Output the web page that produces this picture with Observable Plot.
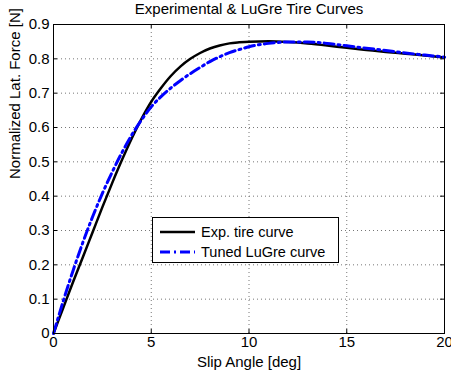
<!DOCTYPE html>
<html>
<head>
<meta charset="utf-8">
<script src="https://cdn.jsdelivr.net/npm/d3@7"></script>
<script src="https://cdn.jsdelivr.net/npm/@observablehq/plot@0.6"></script>
<style>
  body { margin: 0; background: #fff; }
  #wrap { position: relative; width: 451px; height: 381px; font-family: "Liberation Sans", Arial, Helvetica, sans-serif; }
  #legend { position: absolute; left: 152px; top: 217px; width: 185px; height: 44px; border: 1px solid #000; background: #fff; font-size: 14.5px; color: #000; }
  .item { position: absolute; left: 0; height: 20px; display: flex; align-items: center; }
  .item svg { margin-left: 7px; margin-right: 6px; }
</style>
</head>
<body>
<div id="wrap"></div>
<script>
const titleText = "Experimental & LuGre Tire Curves";
const xLabel = "Slip Angle [deg]";
const yLabel = "Normalized Lat. Force [N]";
const seriesNames = ["Exp. tire curve", "Tuned LuGre curve"];
const xTicks = [0, 5, 10, 15, 20];
const yTicks = [0, 0.1, 0.2, 0.3, 0.4, 0.5, 0.6, 0.7, 0.8, 0.9];

const expSlip  = [0, 0.5, 1, 1.5, 2, 2.5, 3, 3.5, 4, 4.5, 5, 5.5, 6, 6.5, 7, 7.5, 8, 8.5, 9, 9.5, 10, 11, 12, 13, 14, 15, 16, 17, 18, 19, 20];
const expForce = [0, 0.075, 0.15, 0.222, 0.295, 0.368, 0.438, 0.505, 0.568, 0.625, 0.675, 0.715, 0.75, 0.778, 0.8, 0.817, 0.83, 0.839, 0.845, 0.848, 0.85, 0.851, 0.849, 0.845, 0.839, 0.832, 0.826, 0.82, 0.815, 0.81, 0.804];

const lugreSlip  = [0, 0.5, 1, 1.5, 2, 2.5, 3, 3.5, 4, 4.5, 5, 5.5, 6, 6.5, 7, 7.5, 8, 8.5, 9, 9.5, 10, 10.5, 11, 12, 13, 14, 15, 16, 17, 18, 19, 20];
const lugreForce = [0, 0.095, 0.183, 0.265, 0.34, 0.408, 0.47, 0.527, 0.578, 0.622, 0.66, 0.69, 0.715, 0.737, 0.757, 0.775, 0.792, 0.806, 0.818, 0.827, 0.835, 0.841, 0.845, 0.849, 0.849, 0.845, 0.838, 0.831, 0.824, 0.817, 0.811, 0.805];

const expData = expSlip.map((x, i) => ({x, y: expForce[i]}));
const lugreData = lugreSlip.map((x, i) => ({x, y: lugreForce[i]}));

const font = "Liberation Sans, Arial, Helvetica, sans-serif";
const dashLuGre = "10,4,2,4";

const chart = Plot.plot({
  width: 451,
  height: 381,
  marginLeft: 53,
  marginRight: 7,
  marginTop: 24,
  marginBottom: 48,
  style: {fontFamily: font, fontSize: "15px", background: "#fff", color: "#000"},
  x: {domain: [0, 20], ticks: xTicks},
  y: {domain: [0, 0.9], ticks: yTicks},
  marks: [
    Plot.gridX(xTicks.filter(d => d > 0 && d < 20), {stroke: "#777", strokeOpacity: 1, strokeDasharray: "1,3", strokeWidth: 1}),
    Plot.gridY(yTicks.filter(d => d > 0 && d < 0.9), {stroke: "#777", strokeOpacity: 1, strokeDasharray: "1,3", strokeWidth: 1}),
    Plot.axisX(xTicks, {tickSize: 0, tickPadding: 3, label: null, fontSize: 15, tickFormat: d => String(d)}),
    Plot.axisY(yTicks, {tickSize: 0, tickPadding: 4, label: null, fontSize: 15, tickFormat: d => String(+d.toFixed(1))}),
    Plot.tickX(xTicks, {x: d => d, stroke: "#000", insetTop: 305}),
    Plot.tickX(xTicks, {x: d => d, stroke: "#000", insetBottom: 305}),
    Plot.tickY(yTicks, {y: d => d, stroke: "#000", insetRight: 387}),
    Plot.tickY(yTicks, {y: d => d, stroke: "#000", insetLeft: 387}),
    Plot.line(expData, {x: "x", y: "y", stroke: "#000", strokeWidth: 2.5, curve: "monotone-x"}),
    Plot.line(lugreData, {x: "x", y: "y", stroke: "#0000ff", strokeWidth: 3, strokeDasharray: dashLuGre, curve: "monotone-x"}),
    Plot.frame({stroke: "#000", strokeWidth: 1}),
    Plot.text([titleText], {frameAnchor: "top", dy: -15, lineAnchor: "middle", fontSize: 15, fill: "#000"}),
    Plot.text([xLabel], {frameAnchor: "bottom", dy: 29, lineAnchor: "middle", fontSize: 15, fill: "#000"}),
    Plot.text([yLabel], {frameAnchor: "left", dx: -38, rotate: -90, lineAnchor: "middle", fontSize: 15, fill: "#000"})
  ]
});

const wrap = document.getElementById("wrap");
wrap.appendChild(chart);

const legend = document.createElement("div");
legend.id = "legend";
const styles = [
  {stroke: "#000", width: 2.5, dash: null},
  {stroke: "#0000ff", width: 3, dash: dashLuGre}
];
seriesNames.forEach((name, i) => {
  const item = document.createElement("div");
  item.className = "item";
  item.style.top = (4 + i * 20) + "px";
  const s = styles[i];
  item.innerHTML = `<svg width="35" height="10"><line x1="0" y1="5" x2="35" y2="5" stroke="${s.stroke}" stroke-width="${s.width}" ${s.dash ? `stroke-dasharray="${s.dash}"` : ""}/></svg><span>${name}</span>`;
  legend.appendChild(item);
});
wrap.appendChild(legend);
</script>
</body>
</html>
